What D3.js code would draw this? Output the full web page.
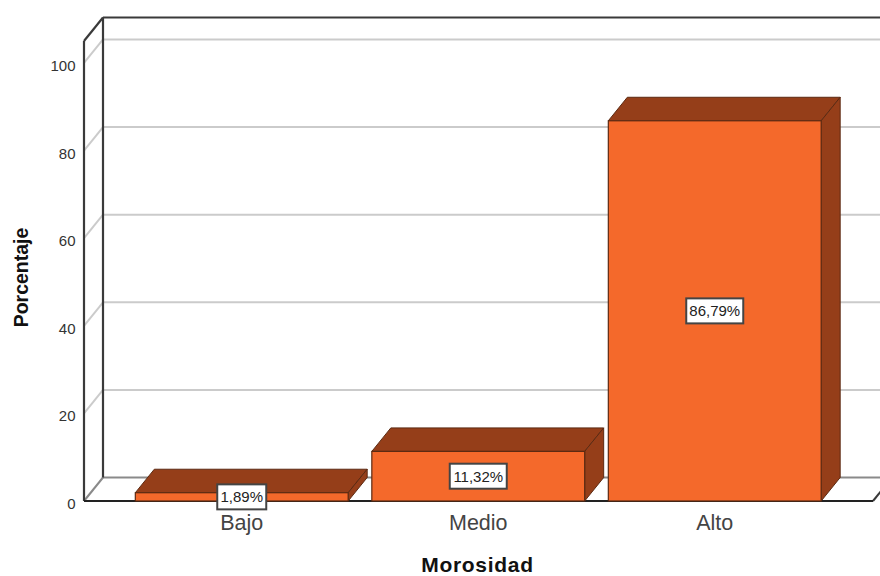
<!DOCTYPE html>
<html><head><meta charset="utf-8">
<script src="https://cdn.jsdelivr.net/npm/d3@7"></script>
<style>html,body{margin:0;padding:0;background:#fff}svg{display:block}text{font-family:"Liberation Sans",Arial,sans-serif}</style>
</head><body><svg id="c" width="880" height="576"></svg>
<script>
const categories = ["Bajo","Medio","Alto"];
const percentages = [1.89,11.32,86.79];
const valueLabels = ["1,89%","11,32%","86,79%"];
const yTicks = [0,20,40,60,80,100];
const xTitle = "Morosidad", yTitle = "Porcentaje";

const W=880,H=576, dx=19, dy=23.5;
const svg=d3.select("#c");
const y=d3.scaleLinear().domain([0,105]).range([501,41]);
const x=d3.scaleBand().domain(categories).range([123.5,833]).paddingInner(0.1).paddingOuter(0.05);
const left=84, right=873;
const dark="#953e19", front="#f4692b", edge="#5c2a12", axis="#3a3a3a", grid="#cbcbcb";
const line=(a,b,c,d,col,w)=>svg.append("line").attr("x1",a).attr("y1",b).attr("x2",c).attr("y2",d).attr("stroke",col).attr("stroke-width",w);

// gridlines on back and left walls
yTicks.filter(t=>t>0).forEach(t=>{
  line(left,y(t),left+dx,y(t)-dy,grid,2);
  line(left+dx,y(t)-dy,W,y(t)-dy,grid,2);
});
// floor
line(left+dx,y(0)-dy,W,y(0)-dy,"#8a8a8a",2);
line(left,y(0),left+dx,y(0)-dy,"#8a8a8a",2);
line(right,y(0),right+dx,y(0)-dy,axis,2);
// frame
const plotTop=y.range()[1];
line(left+dx,plotTop-dy,left+dx,y(0)-dy,axis,2.2);
line(left+dx,plotTop-dy,W,plotTop-dy,axis,2.2);
line(left,plotTop,left+dx,plotTop-dy,axis,2.2);
line(left,plotTop,left,y(0),axis,2.2);
line(left,y(0),right,y(0),"#222",2.2);

// bars
const bars=svg.selectAll("g.bar").data(categories.map((c,i)=>({c,v:percentages[i],l:valueLabels[i]}))).join("g").attr("class","bar");
bars.append("polygon").attr("fill",dark).attr("stroke",edge).attr("stroke-width",1)
 .attr("points",d=>{const a=x(d.c),b=a+x.bandwidth(),t=y(d.v);return [[a,t],[a+dx,t-dy],[b+dx,t-dy],[b,t]].join(" ")});
bars.append("polygon").attr("fill",dark).attr("stroke",edge).attr("stroke-width",1)
 .attr("points",d=>{const b=x(d.c)+x.bandwidth(),t=y(d.v),z=y(0);return [[b,t],[b+dx,t-dy],[b+dx,z-dy],[b,z]].join(" ")});
bars.append("rect").attr("fill",front).attr("stroke",edge).attr("stroke-width",1.2)
 .attr("x",d=>x(d.c)).attr("y",d=>y(d.v)).attr("width",x.bandwidth()).attr("height",d=>y(0)-y(d.v));

// y ticks
svg.selectAll("text.yt").data(yTicks).join("text").attr("class","yt")
 .attr("x",75.5).attr("y",d=>y(d)+8).attr("text-anchor","end").attr("font-size",15).attr("fill","#333").text(d=>d);
// x labels
svg.selectAll("text.xt").data(categories).join("text").attr("class","xt")
 .attr("x",d=>x(d)+x.bandwidth()/2).attr("y",530).attr("text-anchor","middle").attr("font-size",21.5).attr("fill","#444").text(d=>d);
// value labels
const lab=bars.append("g").attr("transform",d=>`translate(${x(d.c)+x.bandwidth()/2},${y(d.v/2)})`);
lab.append("rect").attr("x",(d,i)=>-[24.5,28.5,28.5][i]).attr("width",(d,i)=>[49,57,57][i]).attr("y",-12.5).attr("height",25)
 .attr("fill","#fff").attr("stroke","#444").attr("stroke-width",2);
lab.append("text").attr("text-anchor","middle").attr("y",5.5).attr("font-size",15).attr("fill","#222").text(d=>d.l);
// titles
svg.append("text").attr("x",477.5).attr("y",571.5).attr("text-anchor","middle").attr("font-size",21).attr("letter-spacing",0.7).attr("font-weight","bold").attr("fill","#111").text(xTitle);
svg.append("text").attr("transform","translate(28,277.5) rotate(-90)").attr("text-anchor","middle").attr("font-size",19.5).attr("font-weight","bold").attr("fill","#111").text(yTitle);
</script></body></html>
